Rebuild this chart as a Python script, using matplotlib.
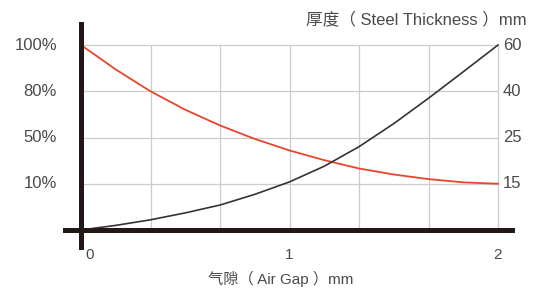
import matplotlib
matplotlib.use('Agg')
import matplotlib.pyplot as plt
import numpy as np

# air gap (mm) and the two curves, in grid-row units (row 1..4 = tick levels)
gap = [0, 0.167, 0.333, 0.5, 0.667, 0.833, 1.0, 1.167, 1.333, 1.5, 1.667, 1.833, 2.0]
force = [4.0, 3.47, 3.0, 2.6, 2.26, 1.97, 1.72, 1.51, 1.33, 1.2, 1.1, 1.03, 1.0]
thickness = [0.0, 0.1, 0.22, 0.37, 0.54, 0.77, 1.04, 1.38, 1.8, 2.3, 2.85, 3.42, 4.0]

rows = [1, 2, 3, 4]
left_labels = ['10%', '50%', '80%', '100%']
right_labels = ['15', '25', '40', '60']
x_ticks = [0, 1, 2]

txt = '#4a4a4a'
fam = ['Liberation Sans', 'Noto Sans CJK SC', 'DejaVu Sans']

fig = plt.figure(figsize=(5.4, 2.91), dpi=100)
ax = fig.add_axes([63/540, 41/291, 452/540, 228/291])
ax.set_xlim(-18/208.5, 2 + 17/208.5)
ax.set_ylim(-20/46.25, 208/46.25)
ax.axis('off')

# grid
for k in range(1, 7):
    ax.vlines(k/3, 0, 4, color='#cccccc', lw=0.9, zorder=1)
ax.hlines(rows, 0, 2, color='#cccccc', lw=0.9, zorder=1)

# curves
ax.plot(gap, force, color='#e8452c', lw=1.3, zorder=3)
ax.plot(gap, thickness, color='#333333', lw=1.2, zorder=3)

# heavy axis lines
ax.axhline(0, color='#231815', lw=3.6, zorder=4)
ax.axvline(0, color='#231815', lw=3.6, zorder=4)

for r, l, rl in zip(rows, left_labels, right_labels):
    ax.text(-0.115, r, l, ha='right', va='center', fontsize=12, color=txt, family=fam)
    ax.text(2.024, r, rl, ha='left', va='center', fontsize=12, color=txt, family=fam)

for t in x_ticks:
    xp = 0.043 if t == 0 else t
    ax.text(xp, -0.54, str(t), ha='center', va='center', fontsize=11, color=txt, family=fam)

fig.text(527/540, 1 - 19/291, '厚度（ Steel Thickness ）mm', ha='right', va='center',
         fontsize=12, color=txt, family=fam)
fig.text(281/540, 1 - 279/291, '气隙（ Air Gap ）mm', ha='center', va='center',
         fontsize=11, color=txt, family=fam)

fig.savefig('out.png', dpi=100)
